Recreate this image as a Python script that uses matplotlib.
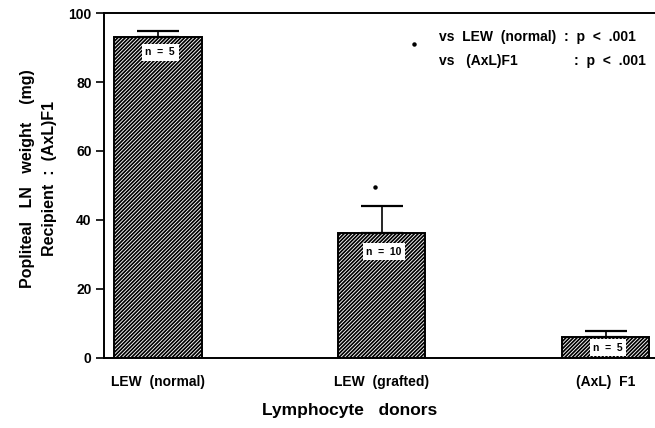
import numpy as np
import matplotlib.pyplot as plt

plt.rcParams["font.family"] = ["Liberation Sans", "DejaVu Sans"]
plt.rcParams["font.weight"] = "bold"
plt.rcParams["hatch.linewidth"] = 1.25

donors = ["LEW  (normal)", "LEW  (grafted)", "(AxL)  F1"]
weight_mg = [93.0, 36.3, 6.2]
sem_mg = [1.8, 7.9, 1.6]
n_labels = ["n = 5", "n = 10", "n = 5"]
n_label_y = [88.6, 30.8, 3.0]
yticks = [0, 20, 40, 60, 80, 100]

fig = plt.figure(figsize=(6.55, 4.28), dpi=100)
ax = fig.add_axes([0.159, 0.1636, 0.841, 0.806])

x = np.arange(len(donors))
ax.bar(x, weight_mg, width=0.39, color="white", edgecolor="black",
       hatch="/////////", linewidth=1.4, zorder=2)
ax.errorbar(x, weight_mg, yerr=[np.zeros(len(sem_mg)), sem_mg], fmt="none",
            ecolor="black", elinewidth=1.2, capsize=15, capthick=1.6, zorder=3)

for xi, lab, ly in zip(x, n_labels, n_label_y):
    ax.text(xi + 0.01, ly, lab.replace(" ", "  "), ha="center", va="center", fontsize=7.5,
            fontweight="bold", zorder=4,
            bbox=dict(boxstyle="square,pad=0.35", facecolor="white", edgecolor="none"))

# significance marker for the grafted group
ax.plot(x[1] - 0.03, weight_mg[1] + sem_mg[1] + 5.5, marker="o", ms=2.2, color="black")

ax.plot(0.562, 0.91, marker="o", ms=2.2, color="black", transform=ax.transAxes)
ax.text(0.608, 0.93, "vs  LEW  (normal)  :  p  <  .001", transform=ax.transAxes,
        fontsize=10, ha="left", va="center", fontweight="bold")
ax.text(0.608, 0.86, "vs   (AxL)F1", transform=ax.transAxes,
        fontsize=10, ha="left", va="center", fontweight="bold")
ax.text(0.853, 0.86, ":  p  <  .001", transform=ax.transAxes,
        fontsize=10, ha="left", va="center", fontweight="bold")

ax.set_xlim(-0.24, 2.22)
ax.set_ylim(0, 100)
ax.set_yticks(yticks)
ax.set_yticklabels([str(t) for t in yticks], fontsize=10, fontweight="bold")
ax.set_xticks(x)
ax.set_xticklabels(donors, fontsize=10, fontweight="bold")
ax.tick_params(axis="x", length=0, pad=12)
ax.tick_params(axis="y", direction="out", length=6, width=1.2, pad=3)

ax.spines["right"].set_visible(False)
ax.spines["top"].set_linewidth(1.4)
ax.spines["left"].set_linewidth(1.4)
ax.spines["bottom"].set_linewidth(1.4)

ax.set_xlabel("Lymphocyte   donors", fontsize=12.5, fontweight="bold")
ax.xaxis.set_label_coords(0.445, -0.13)
ax.set_ylabel("Popliteal   LN   weight    (mg)\nRecipient  :  (AxL)F1", fontsize=11.5,
              fontweight="bold", linespacing=1.55)
ax.yaxis.set_label_coords(-0.086, 0.52)

fig.savefig("out.png", dpi=100)
